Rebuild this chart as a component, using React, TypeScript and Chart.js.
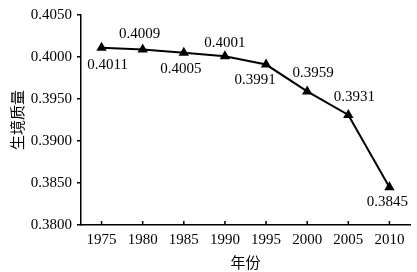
import React, { useEffect, useRef } from "react";
import { Chart, registerables } from "chart.js";

Chart.register(...registerables);

const years = ["1975", "1980", "1985", "1990", "1995", "2000", "2005", "2010"];
const habitatQuality = [0.4011, 0.4009, 0.4005, 0.4001, 0.3991, 0.3959, 0.3931, 0.3845];
const yTicks = [0.38, 0.385, 0.39, 0.395, 0.4, 0.405];

const SERIF = '"Liberation Serif", "Times New Roman", serif';
const CJK = '"Noto Sans CJK SC", sans-serif';

const labelPlugin = {
  id: "valueLabels",
  afterDatasetsDraw(chart: any, _args: any, opts: any) {
    const ctx = chart.ctx;
    const meta = chart.getDatasetMeta(0);
    const offs = opts.offsets || [];
    ctx.save();
    ctx.font = `15px ${SERIF}`;
    ctx.fillStyle = "#000";
    ctx.textAlign = "center";
    ctx.textBaseline = "middle";
    meta.data.forEach((pt: any, i: number) => {
      const o = offs[i] || [0, -15];
      ctx.fillText(habitatQuality[i].toFixed(4), pt.x + o[0], pt.y + o[1]);
    });
    ctx.restore();
  },
};

const innerTicksPlugin = {
  id: "innerXTicks",
  afterDraw(chart: any) {
    const x = chart.scales.x;
    const ctx = chart.ctx;
    const base = chart.chartArea.bottom;
    ctx.save();
    ctx.strokeStyle = "#000";
    ctx.lineWidth = 1.5;
    years.forEach((_, i) => {
      const px = x.getPixelForValue(i);
      ctx.beginPath();
      ctx.moveTo(px, base);
      ctx.lineTo(px, base - 4);
      ctx.stroke();
    });
    ctx.restore();
  },
};

export default function App() {
  const ref = useRef<HTMLCanvasElement | null>(null);
  useEffect(() => {
    if (!ref.current) return;
    const chart = new Chart(ref.current, {
      type: "line",
      data: {
        labels: years,
        datasets: [
          {
            data: habitatQuality,
            borderColor: "#000",
            backgroundColor: "#000",
            borderWidth: 2,
            pointStyle: "triangle",
            pointRadius: 4,
            pointBackgroundColor: "#000",
            pointBorderColor: "#000",
            tension: 0,
          },
        ],
      },
      options: {
        animation: false,
        responsive: false,
        layout: { padding: { left: 0, top: 15, right: 7, bottom: 0 } },
        plugins: {
          legend: { display: false },
          tooltip: { enabled: false },
          valueLabels: {
            offsets: [
              [6, 17],
              [-3, -15],
              [-3, 16],
              [0, -13],
              [-11, 16],
              [6, -18],
              [6, -18],
              [-2, 15],
            ],
          },
        } as any,
        scales: {
          x: {
            type: "category",
            offset: true,
            grid: { display: false, drawTicks: false },
            border: { display: true, color: "#000", width: 1.5 },
            ticks: { color: "#000", font: { family: SERIF, size: 15 }, padding: 6, maxRotation: 0 },
            title: {
              display: true,
              text: "年份",
              color: "#000",
              font: { family: CJK, size: 15 },
              padding: { top: 0, bottom: 1 },
            },
            afterFit(scale: any) {
              scale.height = 47;
            },
          },
          y: {
            min: 0.38,
            max: 0.405,
            afterBuildTicks(scale: any) {
              scale.ticks = yTicks.map((v) => ({ value: v }));
            },
            grid: { drawOnChartArea: false, drawTicks: true, tickLength: 4, color: "#000", lineWidth: 1.5 },
            border: { display: true, color: "#000", width: 1.5 },
            ticks: {
              color: "#000",
              font: { family: SERIF, size: 15 },
              padding: 5,
              callback: (v: any) => Number(v).toFixed(4),
            },
            title: {
              display: true,
              text: "生境质量",
              color: "#000",
              font: { family: CJK, size: 15 },
              padding: { top: 8, bottom: 0 },
            },
            afterFit(scale: any) {
              scale.width = 81;
            },
          },
        },
      },
      plugins: [labelPlugin, innerTicksPlugin],
    });
    return () => chart.destroy();
  }, []);
  return (
    <div style={{ position: "absolute", left: 0, top: 0, width: 417, height: 272, background: "#fff" }}>
      <canvas ref={ref} width={417} height={272} style={{ width: 417, height: 272 }} />
    </div>
  );
}
